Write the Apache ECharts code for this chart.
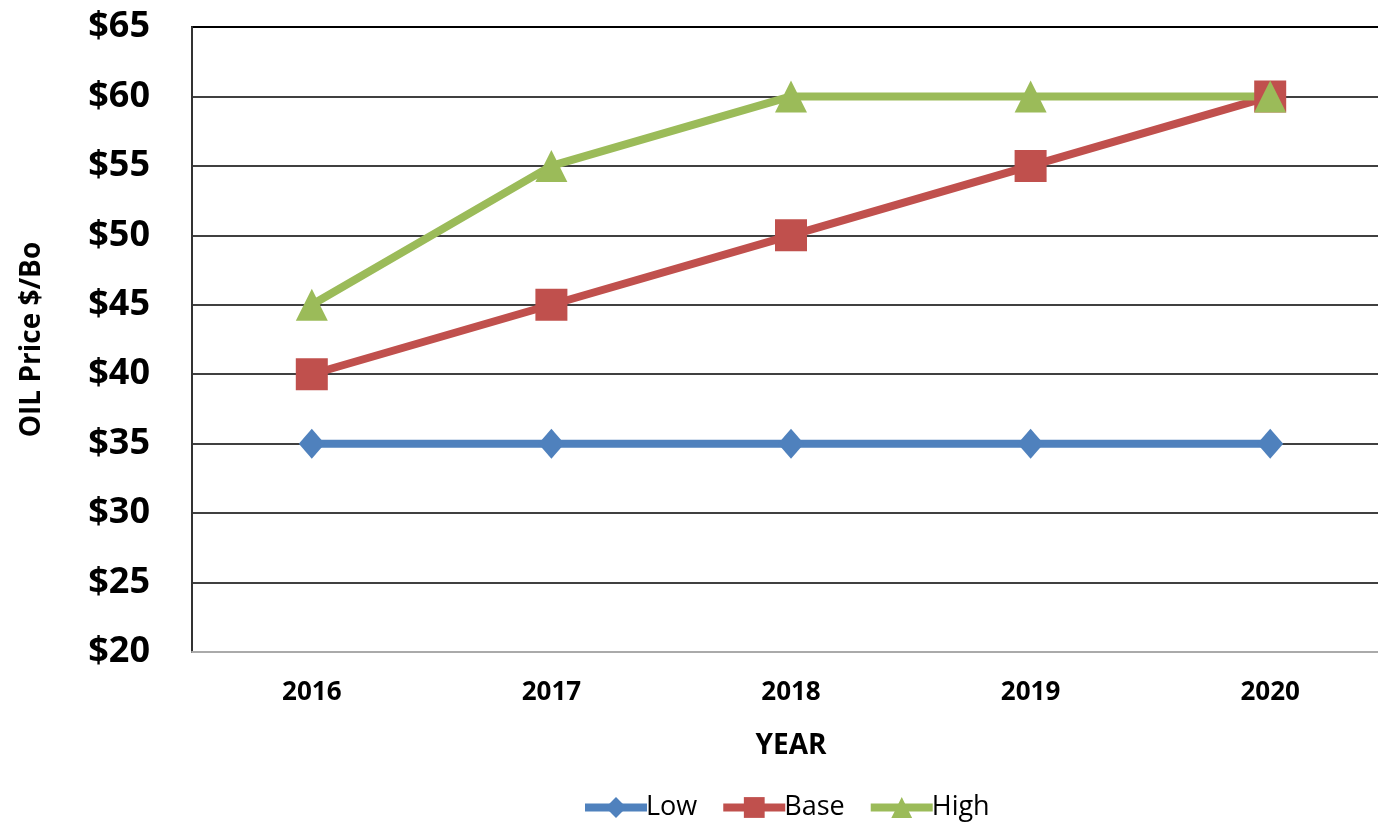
<!DOCTYPE html>
<html><head><meta charset="utf-8">
<script src="https://cdn.jsdelivr.net/npm/echarts@6/dist/echarts.min.js"></script>
<style>html,body{margin:0;padding:0;background:#fff}#c{width:1378px;height:823px}</style>
</head><body><div id="c"></div>
<script>
const years = ['2016','2017','2018','2019','2020'];
const low = [35,35,35,35,35];
const base = [40,45,50,55,60];
const high = [45,55,60,60,60];
const yTicks = {min:20,max:65,interval:5};
const FF = '"Open Sans", "Noto Sans", sans-serif';
const chart = echarts.init(document.getElementById('c'));
function ser(name,data,color,symbol,size){
  return {name,type:'line',data,symbol,symbolSize:size,showSymbol:true,
    lineStyle:{color,width:8},itemStyle:{color,borderWidth:0},color,z:2,animation:false};
}
chart.setOption({
  animation:false,
  grid:{left:192,top:27,width:1198,height:625,outerBoundsMode:'none',containLabel:false,
    show:true,borderColor:'#000',borderWidth:2,backgroundColor:'transparent'},
  xAxis:{type:'category',data:years,boundaryGap:true,
    name:'YEAR',nameLocation:'middle',nameGap:80,
    nameTextStyle:{fontFamily:FF,fontWeight:'bold',fontSize:28,color:'#000'},
    axisLine:{show:true,lineStyle:{color:'#aaa',width:2}},axisTick:{show:false},
    axisLabel:{fontFamily:FF,fontWeight:'bold',fontSize:26,color:'#000',margin:28}},
  yAxis:{type:'value',min:yTicks.min,max:yTicks.max,interval:yTicks.interval,
    name:'OIL Price $/Bo',nameLocation:'middle',nameGap:146,nameRotate:90,
    nameTextStyle:{fontFamily:FF,fontWeight:'bold',fontSize:28,color:'#000'},
    axisLine:{show:true,lineStyle:{color:'#333',width:2}},axisTick:{show:false},
    splitLine:{show:true,lineStyle:{color:'#000',width:1.5}},
    axisLabel:{fontFamily:FF,fontWeight:'bold',fontSize:36,color:'#000',margin:42,formatter:v=>'$'+v}},
  legend:{top:789,left:576,itemWidth:62,itemHeight:26,itemGap:22,
    lineStyle:{width:8},
    textStyle:{fontFamily:FF,fontSize:27,color:'#000',padding:[0,0,0,-6]},
    data:['Low','Base','High']},
  series:[
    ser('Low',low,'#4F81BD','diamond',[26,30]),
    ser('Base',base,'#C0504D','rect',32),
    ser('High',high,'#9BBB59','triangle',32)
  ]
});
</script></body></html>
